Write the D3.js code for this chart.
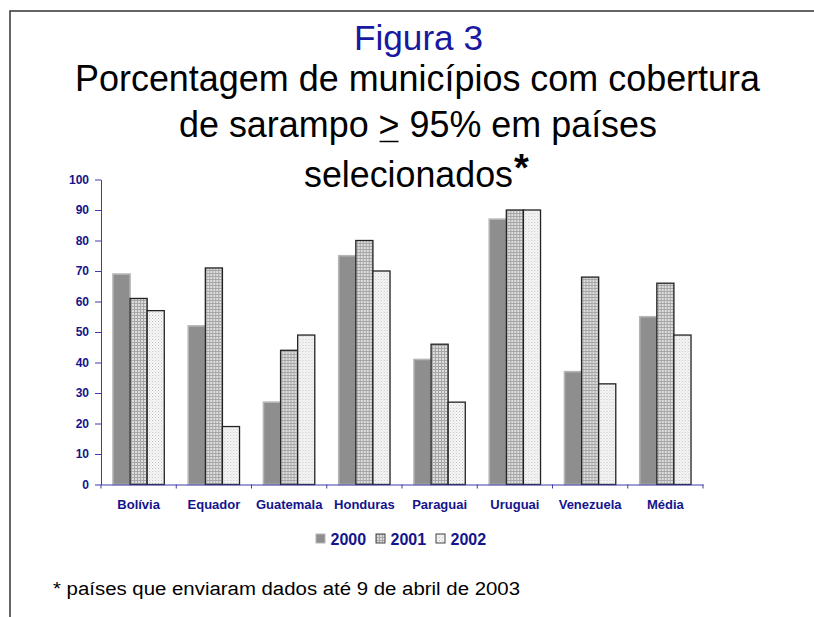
<!DOCTYPE html>
<html>
<head>
<meta charset="utf-8">
<title>Figura 3</title>
<script src="https://d3js.org/d3.v7.min.js"></script>
<style>
    body { margin: 0; background: #fff; }
    text { font-family: "Liberation Sans", Arial, sans-serif; }
    .navy { fill: #14148c; font-weight: bold; }
</style>
</head>
<body>
<div id="chart"></div>
<script>
    var categories = ["Bolívia", "Equador", "Guatemala", "Honduras", "Paraguai", "Uruguai", "Venezuela", "Média"];
    var years = ["2000", "2001", "2002"];
    var s2000 = [69, 52, 27, 75, 41, 87, 37, 55];
    var s2001 = [61, 71, 44, 80, 46, 90, 68, 66];
    var s2002 = [57, 19, 49, 70, 27, 90, 33, 49];
    var yTicks = [0, 10, 20, 30, 40, 50, 60, 70, 80, 90, 100];

    var series = { "2000": s2000, "2001": s2001, "2002": s2002 };

    var width = 814, height = 617;
    var svg = d3.select("#chart").append("svg")
        .attr("width", width)
        .attr("height", height);

    // patterns for the three years
    var defs = svg.append("defs");
    var p1 = defs.append("pattern").attr("id", "p2001")
        .attr("width", 3).attr("height", 3).attr("patternUnits", "userSpaceOnUse");
    p1.append("rect").attr("width", 3).attr("height", 3).attr("fill", "#dedede");
    p1.append("rect").attr("width", 3).attr("height", 1).attr("fill", "#a6a6a6");
    p1.append("rect").attr("width", 1).attr("height", 3).attr("fill", "#a6a6a6");

    var p2 = defs.append("pattern").attr("id", "p2002")
        .attr("width", 3).attr("height", 3).attr("patternUnits", "userSpaceOnUse");
    p2.append("rect").attr("width", 3).attr("height", 3).attr("fill", "#f6f6f6");
    p2.append("rect").attr("width", 1).attr("height", 1).attr("fill", "#c4c4c4");
    p2.append("rect").attr("x", 1.5).attr("y", 1.5).attr("width", 1).attr("height", 1).attr("fill", "#d6d6d6");

    var fills = { "2000": "#8e8e8e", "2001": "url(#p2001)", "2002": "url(#p2002)" };
    var strokes = { "2000": "#b5b5b5", "2001": "#222", "2002": "#222" };

    // frame
    svg.append("path")
        .attr("d", "M10,617V11H814")
        .attr("fill", "none")
        .attr("stroke", "#333")
        .attr("stroke-width", 1.5);

    // titles
    svg.append("text")
        .attr("x", 354).attr("y", 50)
        .attr("font-size", 35)
        .attr("fill", "#1818a0")
        .attr("textLength", 129).attr("lengthAdjust", "spacingAndGlyphs")
        .text("Figura 3");

    svg.append("text")
        .attr("x", 75).attr("y", 91)
        .attr("font-size", 36)
        .attr("textLength", 685).attr("lengthAdjust", "spacingAndGlyphs")
        .text("Porcentagem de municípios com cobertura");

    var line3 = svg.append("text")
        .attr("x", 179).attr("y", 137)
        .attr("font-size", 36)
        .attr("textLength", 478).attr("lengthAdjust", "spacingAndGlyphs")
        .text("de sarampo > 95% em países");

    // underline under ">"
    var idx = "de sarampo > 95% em países".indexOf(">");
    var ext = line3.node().getExtentOfChar(idx);
    svg.append("line")
        .attr("x1", ext.x + 1).attr("x2", ext.x + ext.width - 1)
        .attr("y1", 141.5).attr("y2", 141.5)
        .attr("stroke", "#000").attr("stroke-width", 1.5);

    svg.append("text")
        .attr("x", 304).attr("y", 187)
        .attr("font-size", 36)
        .attr("textLength", 209).attr("lengthAdjust", "spacingAndGlyphs")
        .text("selecionados");

    svg.append("text")
        .attr("x", 514).attr("y", 181)
        .attr("font-size", 38)
        .attr("font-weight", "bold")
        .text("*");

    // scales
    var x0 = d3.scaleBand().domain(categories).range([101, 703]);
    var x1 = d3.scaleBand().domain(years).range([0, x0.bandwidth()])
        .paddingInner(0).paddingOuter(0.7);
    var y = d3.scaleLinear().domain([0, 100]).range([484.5, 179.5]);

    // bars
    var groups = svg.append("g").selectAll("g")
        .data(categories)
        .join("g")
        .attr("transform", function(d) { return "translate(" + x0(d) + ",0)"; });

    groups.selectAll("rect")
        .data(function(d, i) {
            return years.map(function(yr) { return { year: yr, value: series[yr][i] }; });
        })
        .join("rect")
        .attr("x", function(d) { return x1(d.year); })
        .attr("y", function(d) { return y(d.value); })
        .attr("width", x1.bandwidth())
        .attr("height", function(d) { return y(0) - y(d.value); })
        .attr("fill", function(d) { return fills[d.year]; })
        .attr("stroke", function(d) { return strokes[d.year]; })
        .attr("stroke-width", function(d) { return d.year == "2000" ? 1.6 : 1.3; });

    // y axis
    var yAxis = svg.append("g")
        .attr("transform", "translate(101,0)")
        .call(d3.axisLeft(y).tickValues(yTicks).tickSize(6).tickPadding(6).tickSizeOuter(0));
    yAxis.selectAll("path, line").attr("stroke", "#3c3ca8");
    yAxis.selectAll("text")
        .attr("class", "navy")
        .attr("font-size", 12)
        .attr("font-family", "Liberation Sans, Arial, sans-serif");

    // x axis
    var xAxis = svg.append("g")
        .attr("transform", "translate(0,484.5)")
        .call(d3.axisBottom(x0).tickSize(0).tickPadding(15).tickSizeOuter(0));
    xAxis.select(".domain").attr("stroke", "#3c3ca8");
    xAxis.selectAll("text")
        .attr("class", "navy")
        .attr("font-size", 13)
        .attr("font-family", "Liberation Sans, Arial, sans-serif");

    var bounds = categories.map(function(c) { return x0(c); }).concat([x0.range()[1]]);
    xAxis.selectAll(".bound")
        .data(bounds)
        .join("line")
        .attr("class", "bound")
        .attr("x1", function(d) { return d; })
        .attr("x2", function(d) { return d; })
        .attr("y1", 0).attr("y2", 4)
        .attr("stroke", "#3c3ca8");

    // legend
    var legend = svg.append("g").selectAll("g")
        .data(years)
        .join("g")
        .attr("transform", function(d, i) { return "translate(" + (316 + i * 60) + ",534)"; });
    legend.append("rect")
        .attr("width", 9).attr("height", 9)
        .attr("fill", function(d) { return fills[d]; })
        .attr("stroke", function(d) { return d == "2000" ? "#b5b5b5" : "#444"; })
        .attr("stroke-width", 1);
    legend.append("text")
        .attr("class", "navy")
        .attr("x", 14.5).attr("y", 11)
        .attr("font-size", 16)
        .text(function(d) { return d; });

    // footnote
    svg.append("text")
        .attr("x", 53).attr("y", 595)
        .attr("font-size", 18)
        .attr("textLength", 467).attr("lengthAdjust", "spacingAndGlyphs")
        .text("* países que enviaram dados até 9 de abril de 2003");
</script>
</body>
</html>
